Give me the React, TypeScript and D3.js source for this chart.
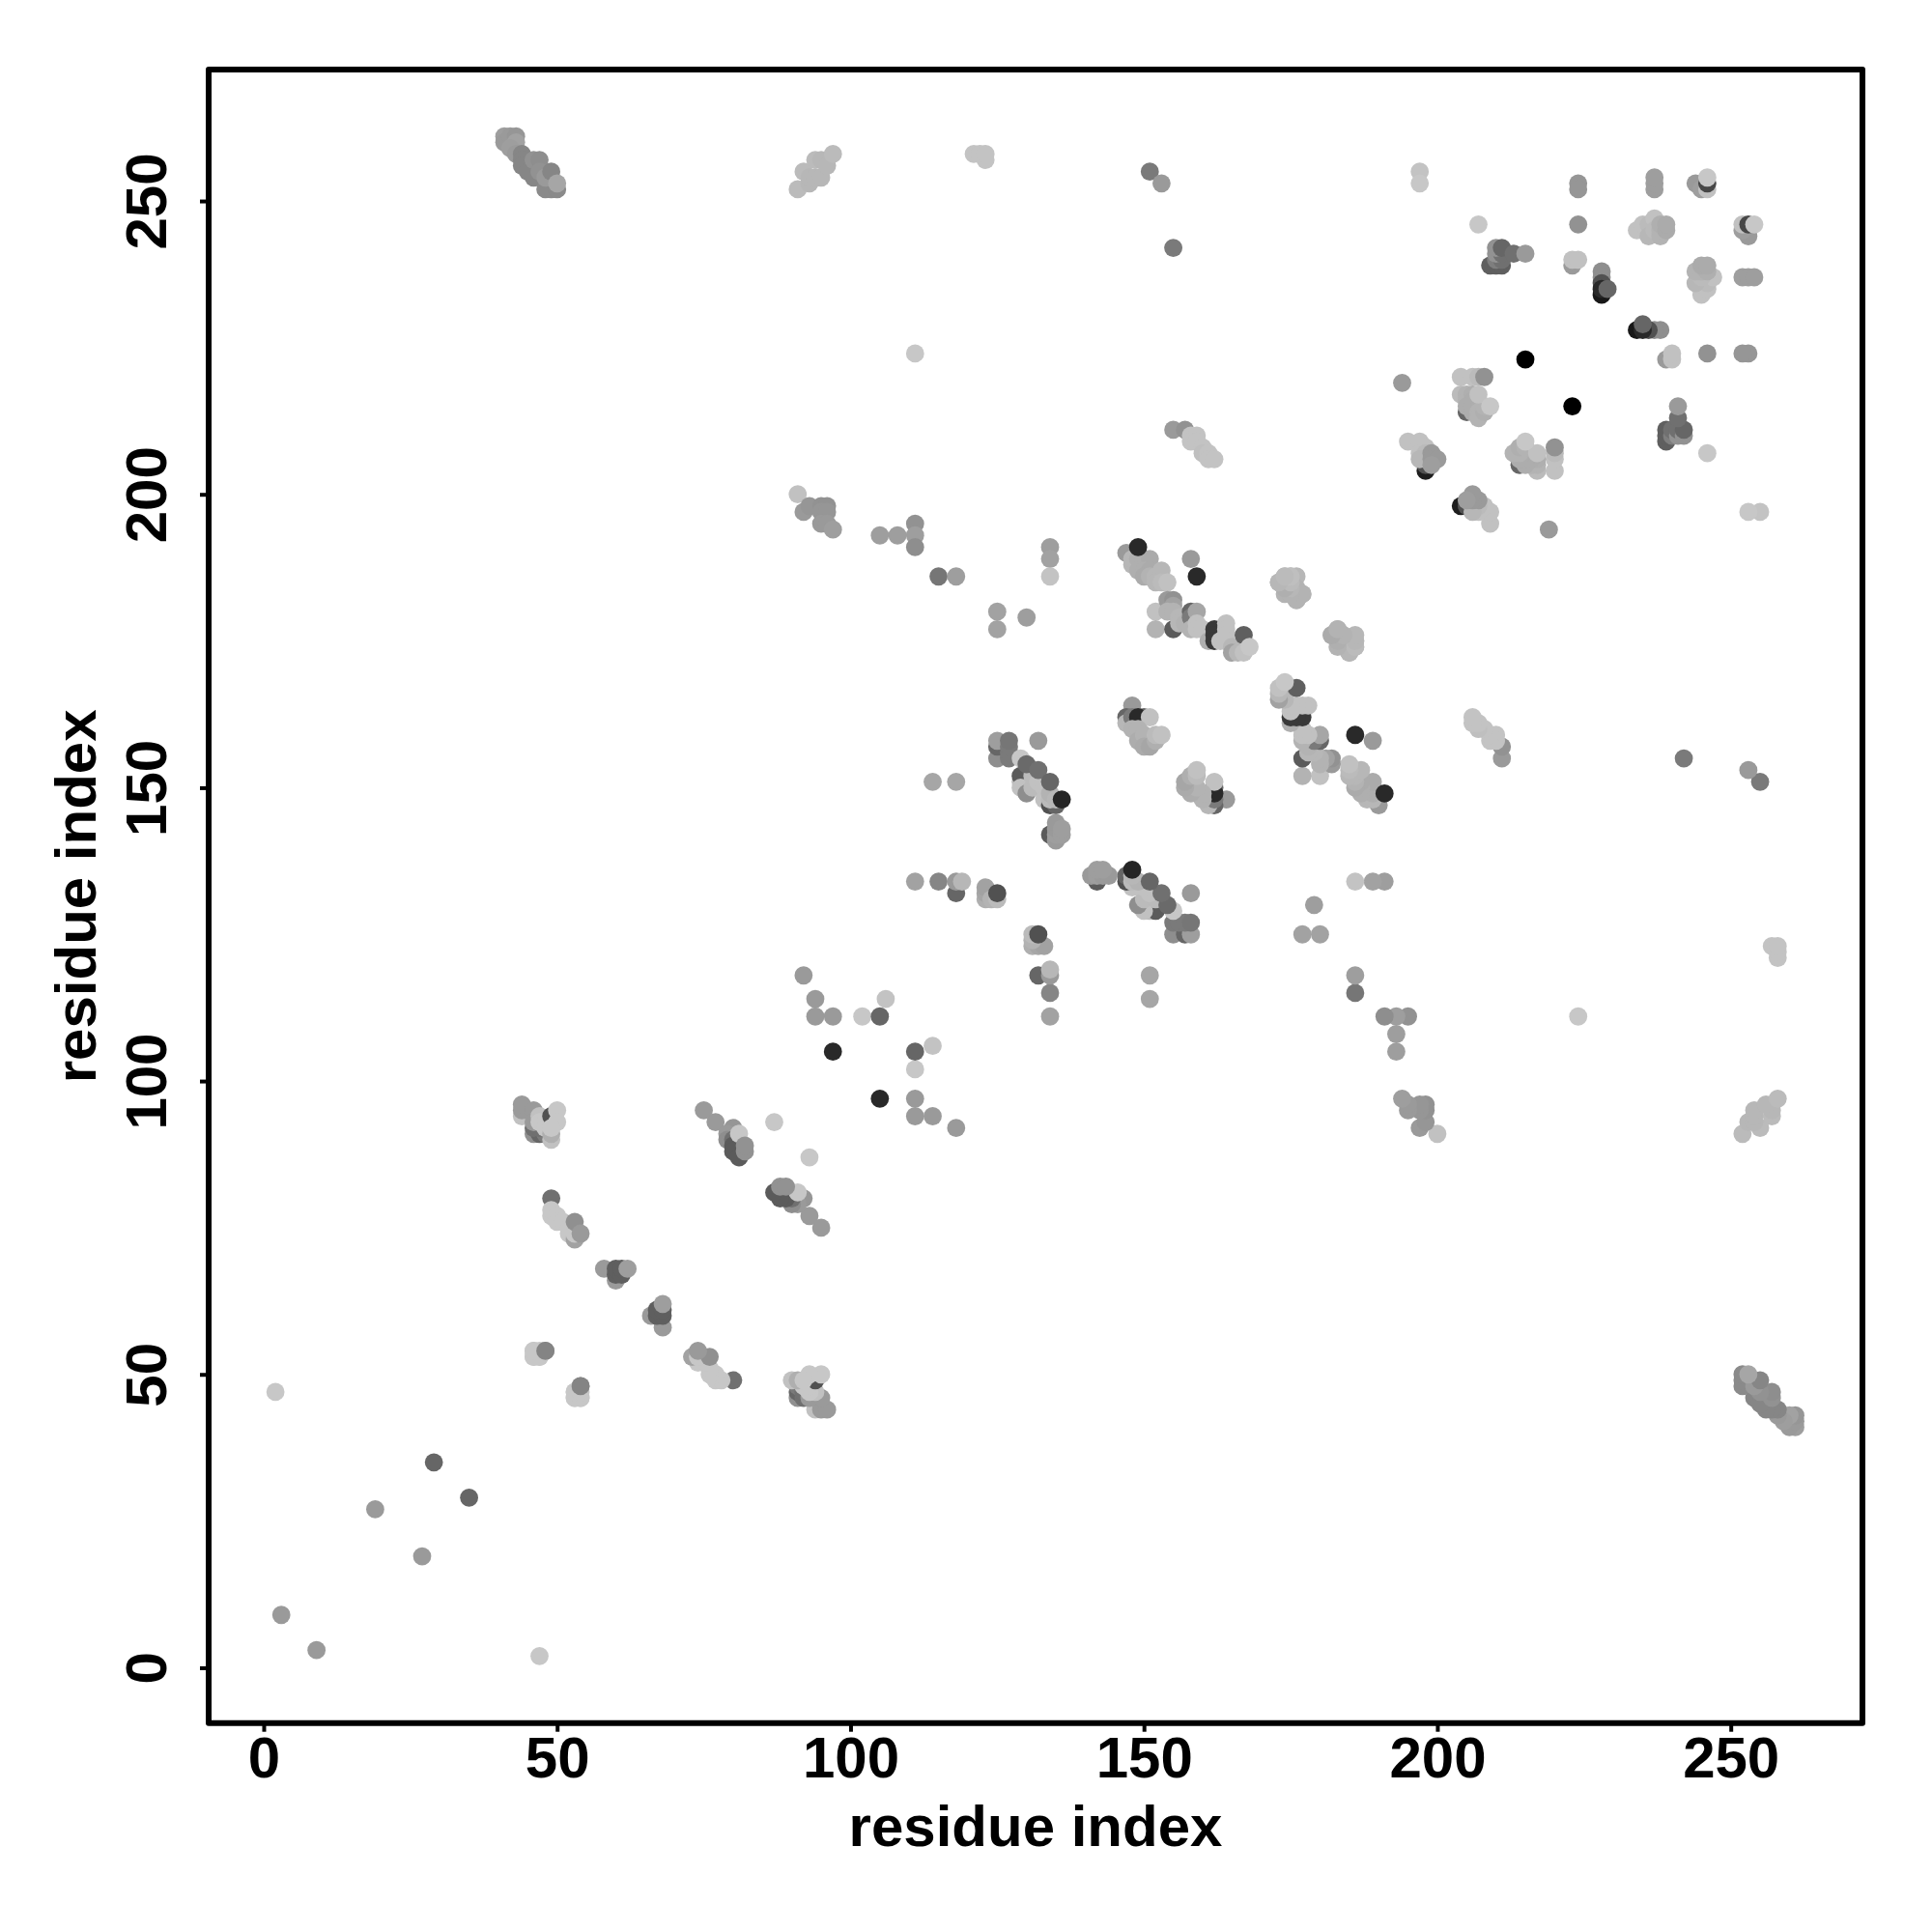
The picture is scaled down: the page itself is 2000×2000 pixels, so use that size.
import React, { useEffect, useRef } from 'react';
import * as d3 from 'd3';

// residue i, residue j (i < j), score (0 = black, 100 = lightest).
// The map is symmetric: each contact is drawn at (i, j) and (j, i).
type Contact = [number, number, number];

const X_TICKS = [0, 50, 100, 150, 200, 250];
const Y_TICKS = [0, 50, 100, 150, 200, 250];
const AXIS_LABEL = 'residue index';

const sparseContacts: Contact[] = [
  [2, 47, 98], [3, 9, 76], [19, 27, 76], [29, 35, 50], [111, 224, 98],
  [155, 242, 60], [151, 255, 60], [153, 253, 76], [194, 219, 76], [215, 223, 0],
  [197, 255, 96], [197, 253, 98], [207, 246, 98],
];

const terminalStrandA: Contact[] = [
  [41, 261, 78], [41, 260, 76], [42, 261, 76], [43, 261, 74], [43, 260, 80], [42, 259, 78],
  [43, 258, 76], [44, 258, 66], [44, 257, 66], [44, 256, 66], [46, 254, 66], [45, 255, 66],
  [46, 257, 72], [47, 257, 70], [47, 255, 72], [48, 252, 68], [49, 252, 68], [50, 252, 68],
  [48, 254, 76], [49, 255, 66], [50, 253, 82],
];

const terminalStrandB: Contact[] = [
  [91, 252, 92], [92, 255, 92], [93, 253, 90], [93, 254, 90], [94, 254, 90], [94, 257, 92],
  [95, 257, 90], [95, 254, 90], [96, 256, 90], [97, 258, 92], [121, 258, 96], [122, 258, 96],
  [123, 257, 96], [123, 258, 96],
];

const strand44: Contact[] = [
  [44, 94, 95], [44, 95, 76], [44, 96, 76], [46, 95, 76], [46, 91, 71], [47, 91, 50],
  [48, 91, 60], [46, 92, 55], [47, 92, 55], [46, 93, 76], [47, 94, 95], [47, 93, 98],
  [48, 93, 98], [48, 92, 98], [49, 90, 95], [49, 91, 86], [49, 94, 40], [50, 95, 98],
  [50, 93, 98], [49, 92, 98],
];

const strand49: Contact[] = [
  [49, 80, 55], [49, 77, 98], [49, 78, 98], [50, 77, 98], [50, 76, 98], [51, 76, 98],
  [52, 75, 98], [52, 74, 98], [53, 73, 80], [53, 74, 98], [53, 76, 71], [54, 74, 76],
  [58, 68, 76], [60, 66, 76], [60, 67, 47], [60, 68, 47], [61, 67, 47], [61, 68, 47], [62, 68, 78],
  [46, 53, 98], [46, 54, 98], [47, 53, 98], [47, 54, 98], [48, 54, 65],
  [53, 47, 98], [53, 46, 98], [54, 46, 98], [54, 48, 65],
];

const strand75: Contact[] = [
  [75, 95, 76], [77, 93, 76], [80, 92, 74], [79, 91, 76], [79, 90, 70], [80, 90, 55],
  [80, 89, 45], [80, 88, 45], [81, 87, 45], [81, 91, 98], [82, 88, 72], [82, 89, 72],
  [87, 93, 98], [92, 118, 76], [94, 114, 76], [94, 111, 76], [97, 111, 76], [102, 111, 98],
  [105, 111, 50], [106, 114, 96], [97, 105, 20],
];

const midContacts: Contact[] = [
  [91, 200, 95], [92, 197, 76], [93, 198, 74], [95, 198, 72], [96, 198, 72], [95, 197, 74],
  [96, 197, 74], [95, 195, 76], [96, 195, 76], [97, 194, 78], [105, 193, 78], [108, 193, 78],
  [111, 195, 72], [111, 193, 78], [111, 191, 70], [115, 186, 58], [118, 186, 78], [125, 180, 80],
  [125, 177, 80], [130, 179, 78], [134, 191, 78], [134, 189, 80], [134, 186, 96],
  [111, 134, 80], [115, 134, 66], [118, 132, 50], [118, 134, 76], [119, 134, 90],
  [114, 151, 82], [118, 151, 82], [123, 131, 86], [123, 132, 82], [123, 133, 80],
  [124, 131, 88], [125, 131, 92], [125, 132, 40],
];

const helix125: Contact[] = [
  [125, 155, 70], [125, 157, 50], [125, 158, 78], [127, 155, 60], [127, 156, 60], [127, 157, 60],
  [127, 158, 58], [132, 158, 76], [129, 151, 92], [129, 152, 45], [129, 150, 95], [130, 149, 70],
  [131, 150, 92], [131, 152, 92], [132, 151, 95], [133, 150, 95], [133, 148, 95], [134, 147, 40],
  [135, 147, 50], [134, 148, 92], [134, 149, 88], [135, 148, 90], [129, 155, 98], [130, 154, 52],
  [132, 153, 55], [134, 151, 50], [136, 148, 18], [134, 142, 45], [135, 141, 76], [135, 142, 78],
  [135, 143, 76], [135, 144, 76], [136, 142, 78], [136, 143, 78],
];

const helix147: Contact[] = [
  [147, 190, 76], [148, 188, 90], [148, 189, 90], [149, 189, 86], [150, 189, 86], [151, 189, 84],
  [149, 187, 86], [150, 187, 86], [151, 187, 84], [150, 186, 84], [151, 186, 88], [152, 186, 90],
  [153, 187, 90], [152, 185, 90], [153, 185, 92], [154, 185, 95], [149, 191, 20], [158, 189, 76],
  [159, 186, 20],
];

const helix152: Contact[] = [
  [152, 180, 95], [152, 177, 88], [154, 182, 76], [155, 182, 72], [155, 181, 80], [154, 180, 88],
  [155, 180, 88], [155, 177, 45], [156, 179, 90], [156, 178, 90], [157, 178, 88], [158, 180, 50],
  [158, 179, 60], [158, 177, 88], [159, 180, 82], [159, 178, 95], [159, 177, 95], [160, 177, 95],
  [161, 175, 86], [162, 177, 28], [162, 176, 28], [162, 175, 28], [163, 175, 95], [164, 178, 95],
  [164, 177, 95], [164, 176, 95], [164, 175, 95], [165, 174, 90], [165, 173, 80], [166, 173, 90],
  [167, 176, 47], [167, 173, 95], [168, 174, 98],
];

const helix173: Contact[] = [
  [173, 185, 90], [174, 186, 92], [175, 186, 90], [176, 186, 90], [174, 183, 88], [175, 183, 86],
  [176, 184, 88], [176, 182, 84], [177, 183, 88], [182, 176, 88], [183, 177, 88], [183, 175, 88],
  [184, 175, 90], [184, 174, 86], [185, 175, 92], [185, 173, 90], [186, 175, 94], [186, 174, 92],
];

const helix147b: Contact[] = [
  [148, 164, 76], [147, 162, 50], [147, 161, 90], [148, 162, 60], [150, 162, 50], [149, 162, 20],
  [151, 162, 95], [148, 160, 88], [149, 160, 88], [149, 158, 85], [150, 159, 88], [150, 157, 84],
  [151, 157, 82], [152, 158, 86], [152, 159, 92], [153, 159, 95],
  [155, 211, 76], [157, 211, 72], [158, 210, 96], [159, 210, 96], [158, 209, 96], [159, 209, 96],
  [160, 208, 96], [160, 207, 94], [161, 207, 96], [161, 206, 96], [162, 206, 96],
];

const groupTopRight: Contact[] = [
  [224, 253, 74], [224, 252, 74], [224, 246, 72], [209, 239, 47], [210, 239, 47], [211, 239, 47],
  [210, 240, 62], [211, 240, 55], [210, 241, 72], [211, 241, 55], [210, 242, 72], [211, 242, 50],
  [213, 241, 55], [215, 241, 76], [223, 239, 76], [223, 240, 95], [224, 240, 95],
  [228, 238, 70], [228, 237, 70], [228, 236, 40], [228, 234, 12], [228, 235, 20], [229, 235, 50],
  [234, 245, 95], [235, 246, 95], [236, 246, 92], [237, 247, 95], [236, 244, 90], [237, 245, 92],
  [238, 244, 88], [238, 245, 88], [238, 246, 86], [239, 245, 84], [239, 246, 84],
  [237, 252, 78], [237, 253, 78], [237, 254, 78], [244, 253, 76], [245, 252, 78], [246, 252, 95],
  [246, 253, 35], [246, 254, 98],
];

const groupUpperMid: Contact[] = [
  [204, 220, 95], [206, 220, 95], [207, 220, 92], [208, 220, 72], [204, 217, 92], [205, 217, 88],
  [205, 216, 88], [206, 217, 86], [206, 216, 85], [205, 214, 50], [205, 215, 85], [206, 215, 85],
  [206, 214, 85], [207, 214, 88], [207, 213, 88], [208, 214, 86], [208, 215, 88], [207, 217, 95],
  [209, 215, 98], [198, 204, 15], [198, 205, 40], [198, 206, 55], [195, 209, 95], [197, 209, 95],
  [198, 208, 95], [197, 207, 95], [198, 207, 92], [197, 206, 90], [199, 207, 76], [199, 206, 76],
  [200, 206, 76], [199, 205, 78],
];

const allContacts: Contact[] = [
  ...sparseContacts, ...terminalStrandA, ...terminalStrandB, ...strand44, ...strand49, ...strand75,
  ...midContacts, ...helix125, ...helix147, ...helix152, ...helix173, ...helix147b,
  ...groupTopRight, ...groupUpperMid,
];

const App: React.FC = () => {
  const svgRef = useRef<SVGSVGElement>(null);

  useEffect(() => {
    if (!svgRef.current) return;
    const svg = d3.select(svgRef.current);
    svg.selectAll('*').remove();

    // plot box in page pixels
    const left = 216, right = 1928, top = 72, bottom = 1783.7;

    const xScale = d3.scaleLinear().domain([-9.38, 272.44]).range([left, right]);
    const yScale = d3.scaleLinear().domain([-9.43, 272.4]).range([bottom, top]);
    const shade = d3.scaleLinear<string>().domain([0, 100]).range(['#000000', '#cbcbcb']);

    const font = '"Liberation Sans", Arial, sans-serif';

    // points, then their mirror images
    const points = [
      ...allContacts.map(c => ({ x: c[0], y: c[1], s: c[2] })),
      ...allContacts.map(c => ({ x: c[1], y: c[0], s: c[2] })),
    ];

    svg.append('g')
      .selectAll('circle')
      .data(points)
      .enter()
      .append('circle')
      .attr('cx', d => xScale(d.x))
      .attr('cy', d => yScale(d.y))
      .attr('r', 9.4)
      .attr('fill', d => shade(d.s));

    svg.append('rect')
      .attr('x', left)
      .attr('y', top)
      .attr('width', right - left)
      .attr('height', bottom - top)
      .attr('fill', 'none')
      .attr('stroke', '#000')
      .attr('stroke-width', 6)
      .attr('stroke-linejoin', 'round');

    // X axis
    svg.append('g')
      .attr('transform', `translate(0,${bottom})`)
      .call(d3.axisBottom(xScale).tickValues(X_TICKS).tickSize(9).tickPadding(4.7).tickFormat(d3.format('d')))
      .call(g => g.select('.domain').remove())
      .call(g => g.selectAll('.tick line').attr('stroke', '#000').attr('stroke-width', 4))
      .call(g => g.selectAll('.tick text')
        .attr('fill', '#000')
        .attr('font-family', font)
        .attr('font-weight', 700)
        .attr('font-size', 60));

    // Y axis, labels turned like base R's las=0
    svg.append('g')
      .attr('transform', `translate(${left},0)`)
      .call(d3.axisLeft(yScale).tickValues(Y_TICKS).tickSize(9).tickFormat(d3.format('d')))
      .call(g => g.select('.domain').remove())
      .call(g => g.selectAll('.tick line').attr('stroke', '#000').attr('stroke-width', 4))
      .call(g => g.selectAll('.tick text')
        .attr('fill', '#000')
        .attr('font-family', font)
        .attr('font-weight', 700)
        .attr('font-size', 60)
        .attr('x', 0)
        .attr('y', 0)
        .attr('dy', 0)
        .attr('text-anchor', 'middle')
        .attr('transform', `translate(${172 - left},0) rotate(-90)`));

    svg.append('text')
      .attr('x', (left + right) / 2)
      .attr('y', 1911)
      .attr('text-anchor', 'middle')
      .attr('font-family', font)
      .attr('font-weight', 700)
      .attr('font-size', 60)
      .attr('fill', '#000')
      .text(AXIS_LABEL);

    svg.append('text')
      .attr('transform', `translate(99,${(top + bottom) / 2}) rotate(-90)`)
      .attr('text-anchor', 'middle')
      .attr('font-family', font)
      .attr('font-weight', 700)
      .attr('font-size', 60)
      .attr('fill', '#000')
      .text(AXIS_LABEL);
  }, []);

  return (
    <svg
      ref={svgRef}
      width={2000}
      height={2000}
      viewBox="0 0 2000 2000"
      style={{ position: 'absolute', left: 0, top: 0, background: '#fff' }}
    />
  );
};

export default App;
